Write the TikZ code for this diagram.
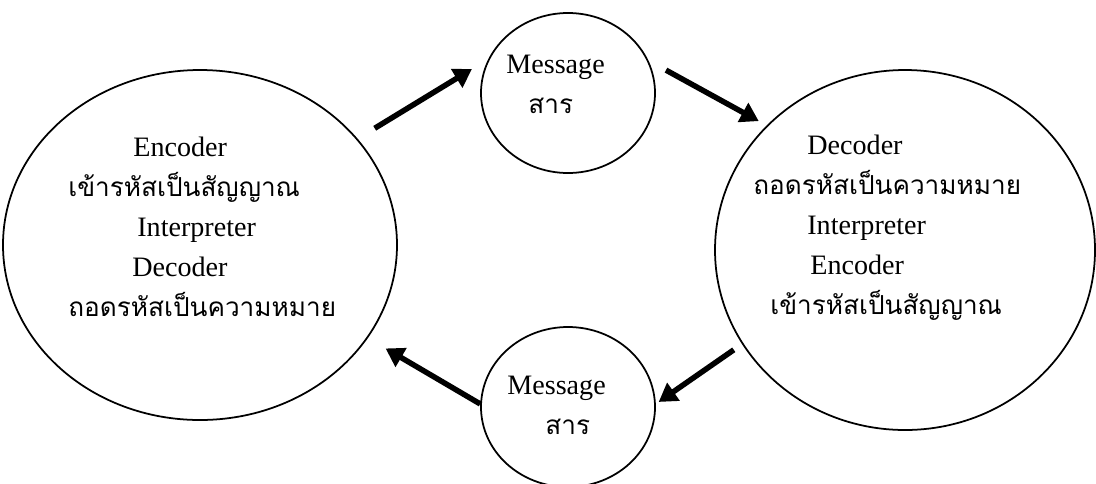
\documentclass[tikz,border=0pt]{standalone}
\usepackage{fontspec}
\setmainfont{Liberation Serif}
\newfontfamily\thaifont[Script=Thai,Scale=0.93]{Loma}
\usetikzlibrary{shapes.geometric,arrows.meta}

\begin{document}
\begin{tikzpicture}[
        party/.style={draw,ellipse,line width=1pt,inner sep=0pt},
        msg/.style={draw,ellipse,line width=1pt,inner sep=0pt,minimum width=3.48cm,minimum height=3.2cm},
        txt/.style={align=left,font=\fontsize{16}{22.8}\selectfont,inner sep=0pt},
        flow/.style={line width=0.11cm,-{Triangle[length=0.36cm,width=0.42cm]}}]
        \useasboundingbox (0,0) rectangle (21.92,-9.66);

        \node[party,minimum width=7.88cm,minimum height=7cm] (sender) at (4,-4.9) {};
        \node[party,minimum width=7.6cm,minimum height=7.2cm] (receiver) at (18.1,-5) {};
        \node[msg] (msgtop) at (11.36,-1.86) {};
        \node[msg] (msgbottom) at (11.36,-8.14) {};

        \node[txt,anchor=west] (sendertext) at ([xshift=-2.64cm,yshift=0.36cm]sender.center) {\hspace*{1.3cm}Encoder\\{\thaifont เข้ารหัสเป็นสัญญาณ}\\\hspace*{1.38cm}Interpreter\\\hspace*{1.28cm}Decoder\\{\thaifont ถอดรหัสเป็นความหมาย}};
        \node[txt,anchor=west] (receivertext) at ([xshift=-3.04cm,yshift=0.45cm]receiver.center) {\hspace*{1.08cm}Decoder\\{\thaifont ถอดรหัสเป็นความหมาย}\\\hspace*{1.08cm}Interpreter\\\hspace*{1.14cm}Encoder\\\hspace*{0.34cm}{\thaifont เข้ารหัสเป็นสัญญาณ}};
        \node[txt,anchor=west] (msgtoptext) at ([xshift=-1.24cm,yshift=0.18cm]msgtop.center) {Message\\\hspace*{0.44cm}{\thaifont สาร}};
        \node[txt,anchor=west] (msgbottomtext) at ([xshift=-1.22cm,yshift=0.04cm]msgbottom.center) {Message\\\hspace*{0.76cm}{\thaifont สาร}};

        \draw[flow,shorten <=0.4cm,shorten >=0.38cm] (sender.34.5) -- (msgtop.157.6);
        \draw[flow,shorten <=0.4cm,shorten >=0.18cm] (msgtop.22.4) -- (receiver.138.2);
        \draw[flow,shorten <=0.2cm,shorten >=0.07cm] (receiver.210.3) -- (msgbottom.2);
        \draw[flow,shorten >=0.41cm] (msgbottom.178.7) -- (sender.331);
    \end{tikzpicture}
\end{document}
